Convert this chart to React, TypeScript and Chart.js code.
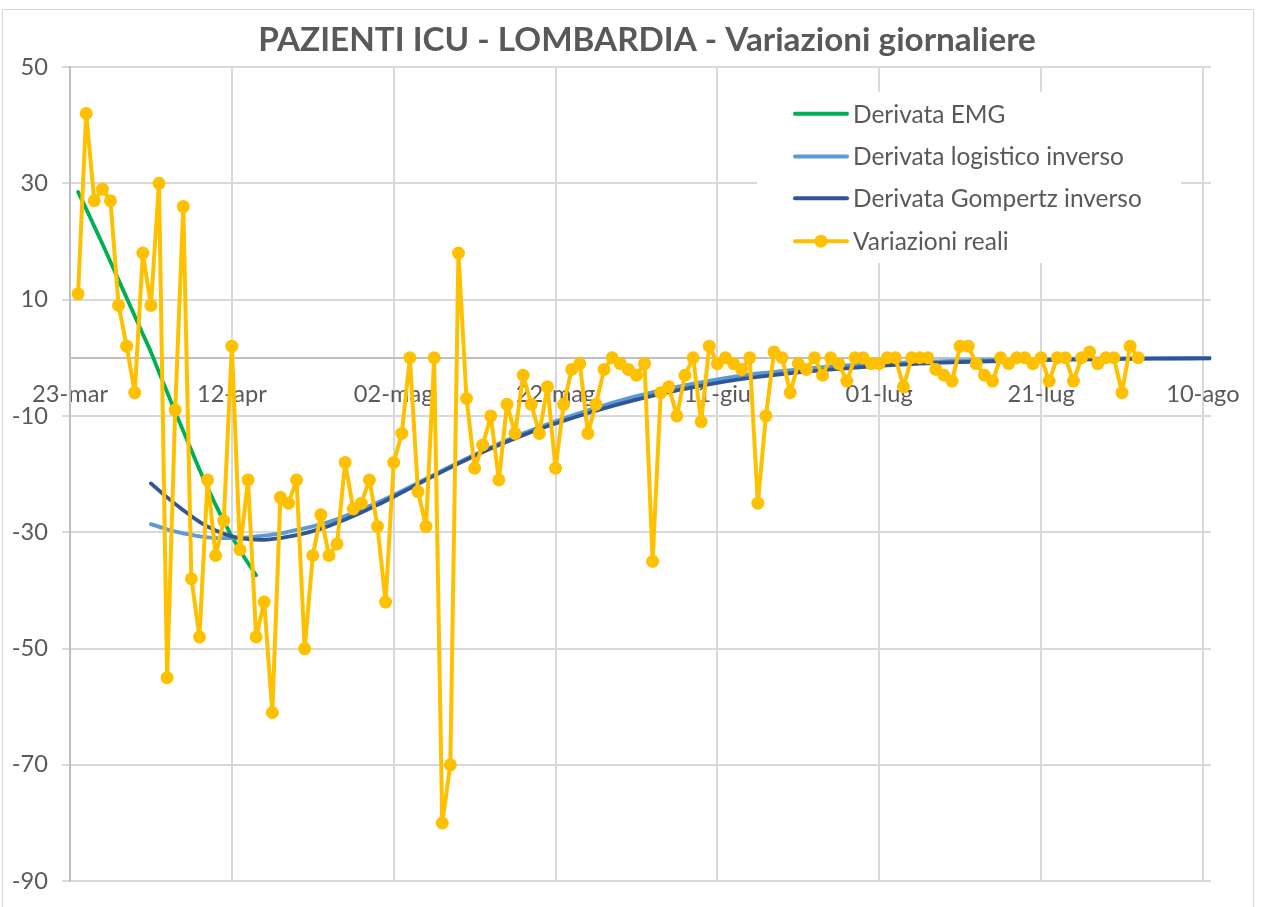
import React, { useEffect, useRef } from 'react';
import { Chart, registerables } from 'chart.js';

Chart.register(...registerables);

// ---------- DATA ----------
const titleText = 'PAZIENTI ICU - LOMBARDIA - Variazioni giornaliere';

const seriesNames = [
  'Derivata EMG',
  'Derivata logistico inverso',
  'Derivata Gompertz inverso',
  'Variazioni reali',
];

// day index 0 = 23-mar
const xTickDays = [0, 20, 40, 60, 80, 100, 120, 140];
const xTickLabels = ['23-mar', '12-apr', '02-mag', '22-mag', '11-giu', '01-lug', '21-lug', '10-ago'];
const yTickValues = [-90, -70, -50, -30, -10, 10, 30, 50];

// Variazioni reali: daily values starting 24-mar (day 1)
const realStartDay = 1;
const realValues = [
  11, 42, 27, 29, 27, 9, 2, -6, 18, 9,
  30, -55, -9, 26, -38, -48, -21, -34, -28, 2,
  -33, -21, -48, -42, -61, -24, -25, -21, -50, -34,
  -27, -34, -32, -18, -26, -25, -21, -29, -42, -18,
  -13, 0, -23, -29, 0, -80, -70, 18, -7, -19,
  -15, -10, -21, -8, -13, -3, -8, -13, -5, -19,
  -8, -2, -1, -13, -8, -2, 0, -1, -2, -3,
  -1, -35, -6, -5, -10, -3, 0, -11, 2, -1,
  0, -1, -2, 0, -25, -10, 1, 0, -6, -1,
  -2, 0, -3, 0, -1, -4, 0, 0, -1, -1,
  0, 0, -5, 0, 0, 0, -2, -3, -4, 2,
  2, -1, -3, -4, 0, -1, 0, 0, -1, 0,
  -4, 0, 0, -4, 0, 1, -1, 0, 0, -6,
  2, 0,
];

// Derivata EMG: daily values starting day 1
const emgStartDay = 1;
const emgValues = [
  28.5, 25.6, 22.6, 19.6, 16.5, 13.4, 10.3, 7.2, 4.1, 1.0,
  -2.5, -5.9, -9.3, -12.6, -15.9, -19.2, -22.3, -25.3, -28.1, -30.7,
  -33.1, -35.3, -37.4,
];

// Derivata logistico inverso
const logDays = [10, 12, 14, 16, 18, 20, 22, 24, 26, 28, 30, 32, 34, 36, 38, 40, 44, 48, 52, 56, 60, 65, 70, 75, 80, 85, 90, 95, 100, 105, 110, 115, 120, 125, 130, 135, 141];
const logValues = [-28.6, -29.5, -30.2, -30.7, -31.0, -31.0, -30.9, -30.6, -30.2, -29.6, -29.0, -28.2, -27.2, -26.1, -24.9, -23.6, -20.8, -18.0, -15.4, -13.0, -10.9, -8.6, -6.6, -5.0, -3.7, -2.7, -2.0, -1.4, -1.0, -0.7, -0.5, -0.35, -0.25, -0.17, -0.12, -0.08, -0.05];

// Derivata Gompertz inverso
const gompDays = [10, 12, 14, 16, 18, 20, 22, 24, 26, 28, 30, 32, 34, 36, 38, 40, 44, 48, 52, 56, 60, 65, 70, 75, 80, 85, 90, 95, 100, 105, 110, 115, 120, 125, 130, 135, 141];
const gompValues = [-21.6, -24.0, -26.2, -28.2, -29.7, -30.7, -31.2, -31.3, -31.0, -30.5, -29.8, -28.9, -27.8, -26.6, -25.3, -23.9, -21.0, -18.2, -15.6, -13.3, -11.3, -9.1, -7.2, -5.6, -4.3, -3.3, -2.5, -1.9, -1.4, -1.0, -0.75, -0.55, -0.4, -0.3, -0.2, -0.15, -0.1];

// ---------- STYLE ----------
const FAMILY = 'Lato, "Open Sans", sans-serif';
const TEXT = '#595959';
const GRID = '#d9d9d9';
const AXIS = '#bfbfbf';
const COLORS = ['#00B050', '#5B9BD5', '#2F5597', '#FFC000'];

function fitSize(text: string, target: number, weight: string): number {
  const c = document.createElement('canvas').getContext('2d') as CanvasRenderingContext2D;
  c.font = `${weight} 100px ${FAMILY}`;
  return (100 * target) / c.measureText(text).width;
}

export default function App() {
  const ref = useRef<HTMLCanvasElement>(null);

  useEffect(() => {
    const canvas = ref.current as HTMLCanvasElement;
    const tickSize = fitSize('23-mar', 76, 'normal');
    const legendSize = fitSize('Derivata Gompertz inverso', 289, 'normal');
    const titleSize = fitSize(titleText, 778, 'bold');

    const overlay = {
      id: 'overlay',
      afterDraw(chart: any) {
        const ctx = chart.ctx as CanvasRenderingContext2D;
        ctx.save();
        // title
        ctx.fillStyle = TEXT;
        ctx.font = `bold ${titleSize}px ${FAMILY}`;
        ctx.textAlign = 'center';
        ctx.textBaseline = 'alphabetic';
        ctx.fillText(titleText, 647, 51);

        // legend
        ctx.fillStyle = '#ffffff';
        ctx.fillRect(757, 92, 424, 171);
        const rows = [113.7, 156.6, 198.3, 241.2];
        ctx.font = `${legendSize}px ${FAMILY}`;
        ctx.textAlign = 'left';
        rows.forEach((ry, i) => {
          ctx.strokeStyle = COLORS[i];
          ctx.lineWidth = 4;
          ctx.lineCap = 'round';
          ctx.beginPath();
          ctx.moveTo(795, ry);
          ctx.lineTo(847, ry);
          ctx.stroke();
          if (i === 3) {
            ctx.fillStyle = COLORS[3];
            ctx.beginPath();
            ctx.arc(821, ry, 6.5, 0, Math.PI * 2);
            ctx.fill();
          }
          ctx.fillStyle = TEXT;
          ctx.fillText(seriesNames[i], 853, ry + legendSize * 0.36);
        });
        ctx.restore();
      },
    };

    const lineCommon = {
      pointRadius: 0,
      borderWidth: 3.8,
      cubicInterpolationMode: 'monotone' as const,
      borderJoinStyle: 'round' as const,
      borderCapStyle: 'round' as const,
      fill: false,
    };

    const chart = new Chart(canvas, {
      type: 'line',
      data: {
        datasets: [
          {
            ...lineCommon,
            label: seriesNames[0],
            data: emgValues.map((v, i) => ({ x: emgStartDay + i, y: v })),
            borderColor: COLORS[0],
            order: 3,
          },
          {
            ...lineCommon,
            label: seriesNames[1],
            data: logDays.map((d, i) => ({ x: d, y: logValues[i] })),
            borderColor: COLORS[1],
            order: 2,
          },
          {
            ...lineCommon,
            label: seriesNames[2],
            data: gompDays.map((d, i) => ({ x: d, y: gompValues[i] })),
            borderColor: COLORS[2],
            order: 1,
          },
          {
            label: seriesNames[3],
            data: realValues.map((v, i) => ({ x: realStartDay + i, y: v })),
            borderColor: COLORS[3],
            backgroundColor: COLORS[3],
            pointBackgroundColor: COLORS[3],
            pointBorderColor: COLORS[3],
            pointBorderWidth: 0,
            pointRadius: 6.5,
            borderWidth: 4,
            borderJoinStyle: 'round',
            tension: 0,
            fill: false,
            order: 0,
          },
        ] as any,
      },
      options: {
        responsive: false,
        animation: false,
        events: [],
        layout: { padding: { left: 0, right: 55, top: 67, bottom: 19 } },
        plugins: {
          legend: { display: false },
          title: { display: false },
          tooltip: { enabled: false },
        },
        scales: {
          x: {
            type: 'linear',
            position: { y: 0 } as any,
            min: 0,
            max: 141,
            afterBuildTicks: (s: any) => {
              s.ticks = xTickDays.map((v) => ({ value: v }));
            },
            grid: { color: GRID, lineWidth: 2, drawTicks: false },
            border: { display: true, color: AXIS, width: 2 },
            ticks: {
              font: { family: FAMILY, size: tickSize },
              color: TEXT,
              padding: 22,
              maxRotation: 0,
              autoSkip: false,
              callback: (v: any) => {
                const k = xTickDays.indexOf(Number(v));
                return k >= 0 ? xTickLabels[k] : '';
              },
            },
          },
          y: {
            type: 'linear',
            min: -90,
            max: 50,
            afterBuildTicks: (s: any) => {
              s.ticks = yTickValues.map((v) => ({ value: v }));
            },
            afterFit: (s: any) => {
              s.width = 70;
            },
            grid: { color: GRID, lineWidth: 2, drawTicks: true, tickLength: 8 },
            border: { display: true, color: AXIS, width: 2 },
            ticks: {
              font: { family: FAMILY, size: tickSize, lineHeight: 1 },
              color: TEXT,
              padding: 14,
              callback: (v: any) => String(v),
            },
          },
        } as any,
      },
      plugins: [overlay],
    });

    return () => chart.destroy();
  }, []);

  return (
    <div style={{ position: 'fixed', left: 0, top: 0, width: 1266, height: 907, overflow: 'hidden', background: '#ffffff' }}>
      <div style={{ position: 'absolute', left: 2, top: 9, width: 1250, height: 1000, border: '1px solid #d9d9d9' }} />
      <canvas ref={ref} width={1266} height={907} style={{ position: 'absolute', left: 0, top: 0, width: 1266, height: 907 }} />
    </div>
  );
}
